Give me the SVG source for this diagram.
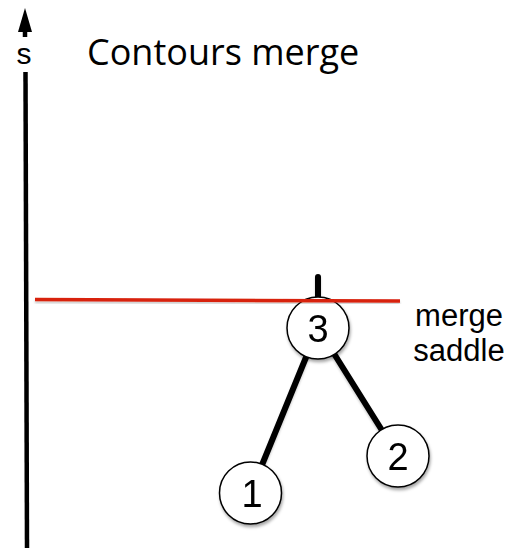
<svg xmlns="http://www.w3.org/2000/svg" width="518" height="552" viewBox="0 0 518 552">
  <style>
    .axis { stroke: #000; stroke-width: 4.5; fill: none; }
    .edge { stroke: #000; stroke-width: 6; stroke-linecap: round; fill: none; }
    .node circle { fill: #fff; stroke: #000; stroke-width: 1.5; }
    .node text { font-family: "Liberation Sans", Arial, sans-serif; font-size: 38px; fill: #000; text-anchor: middle; }
    .label { font-family: "Liberation Sans", Arial, sans-serif; font-size: 31px; fill: #000; }
    .title { font-family: "Open Sans", "Liberation Sans", sans-serif; font-size: 36px; fill: #000; }
    .level { stroke: #d8230f; stroke-width: 3.5; fill: none; }
  </style>
  <defs>
    <filter id="shadow" x="-30%" y="-30%" width="160%" height="170%">
      <feDropShadow dx="1" dy="2.5" stdDeviation="1.6" flood-color="#000" flood-opacity="0.35"/>
    </filter>
    <filter id="softShadow" x="-5%" y="-200%" width="110%" height="500%">
      <feDropShadow dx="0" dy="2" stdDeviation="1.2" flood-color="#000" flood-opacity="0.2"/>
    </filter>
  </defs>

  <!-- vertical s axis with arrowhead -->
  <g id="axis">
    <polygon points="25,8 18,32 32,32" fill="#000"/>
    <line class="axis" x1="25" y1="31" x2="25" y2="37"/>
    <line class="axis" x1="25.5" y1="72" x2="27" y2="548"/>
    <text class="label" x="24" y="64" text-anchor="middle" style="font-size:30px">s</text>
  </g>

  <text id="title" class="title" x="87" y="65">Contours merge</text>

  <!-- tree edges -->
  <g id="connectors" filter="url(#softShadow)">
    <line class="edge" x1="318" y1="277" x2="318" y2="300"/>
    <line class="edge" x1="318" y1="328" x2="250.5" y2="493"/>
    <line class="edge" x1="318" y1="328" x2="398" y2="456"/>
  </g>

  <g id="node1" class="node" filter="url(#shadow)">
    <circle cx="250.5" cy="493" r="31"/>
    <text x="252" y="507">1</text>
  </g>
  <g id="node2" class="node" filter="url(#shadow)">
    <circle cx="398" cy="456" r="31"/>
    <text x="398" y="470">2</text>
  </g>
  <g id="node3" class="node" filter="url(#shadow)">
    <circle cx="318" cy="328" r="31"/>
    <text x="318" y="342">3</text>
  </g>

  <!-- contour level line through the saddle -->
  <g id="level" filter="url(#softShadow)">
    <line class="level" x1="35" y1="299.5" x2="400" y2="301"/>
  </g>

  <g id="saddle-label">
    <text class="label" x="459" y="326" text-anchor="middle">merge</text>
    <text class="label" x="459" y="361" text-anchor="middle">saddle</text>
  </g>
</svg>
